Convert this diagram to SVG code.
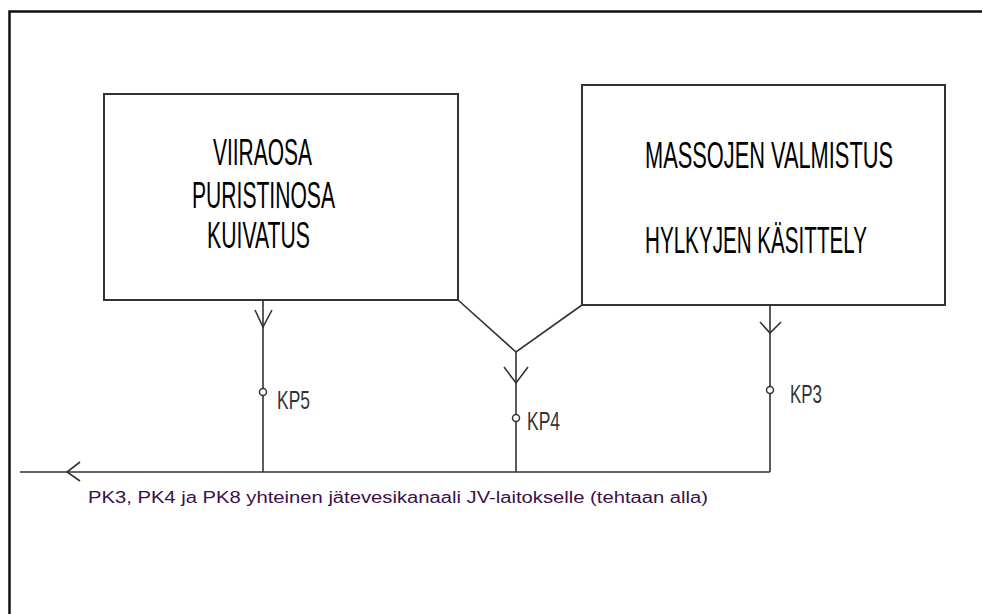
<svg xmlns="http://www.w3.org/2000/svg" width="982" height="614" viewBox="0 0 982 614">
<style>
.box{fill:#fff;stroke:#333;stroke-width:2}
.ln{fill:none;stroke:#333;stroke-width:1.6}
.big{font-family:"Liberation Sans",Arial,sans-serif;font-size:37px;fill:#000}
.kp{font-family:"Liberation Sans",Arial,sans-serif;font-size:25px;fill:#333}
.note{font-family:"Liberation Sans",Arial,sans-serif;font-size:16px;fill:#3a0f4a}
</style>
<rect width="982" height="614" fill="#fff"/>
<path d="M9.5,614 V11.5 H982" fill="none" stroke="#111" stroke-width="2.5"/>
<g id="box-viiraosa">
<rect class="box" x="104" y="94" width="354" height="206"/>
<text class="big" x="213" y="165" textLength="99" lengthAdjust="spacingAndGlyphs">VIIRAOSA</text>
<text class="big" x="192" y="208" textLength="143" lengthAdjust="spacingAndGlyphs">PURISTINOSA</text>
<text class="big" x="207" y="248" textLength="103" lengthAdjust="spacingAndGlyphs">KUIVATUS</text>
</g>
<g id="box-massojen">
<rect class="box" x="582" y="85" width="363" height="220"/>
<text class="big" x="645" y="168" textLength="248" lengthAdjust="spacingAndGlyphs">MASSOJEN VALMISTUS</text>
<text class="big" x="645" y="253" textLength="222" lengthAdjust="spacingAndGlyphs">HYLKYJEN KÄSITTELY</text>
</g>
<g id="connectors">
<path class="ln" d="M263,300 V472"/>
<path class="ln" d="M255,310 L263,327 L272,310"/>
<path class="ln" d="M458,300 L516,352 L582,305"/>
<path class="ln" d="M516,352 V472"/>
<path class="ln" d="M504,367 L516,383 L528,367"/>
<path class="ln" d="M770,305 V472"/>
<path class="ln" d="M760,322 L770,333 L781,322"/>
<path class="ln" d="M20,472 H770"/>
<path class="ln" d="M80,462 L67,472 L80,481"/>
</g>
<g id="kp5">
<circle cx="263" cy="392" r="3.5" fill="#fff" stroke="#333" stroke-width="1.5"/>
<text class="kp" x="277" y="409" textLength="33" lengthAdjust="spacingAndGlyphs">KP5</text>
</g>
<g id="kp4">
<circle cx="516" cy="418" r="3.5" fill="#fff" stroke="#333" stroke-width="1.5"/>
<text class="kp" x="527" y="430" textLength="33" lengthAdjust="spacingAndGlyphs">KP4</text>
</g>
<g id="kp3">
<circle cx="770" cy="390" r="3.5" fill="#fff" stroke="#333" stroke-width="1.5"/>
<text class="kp" x="790" y="403" textLength="32" lengthAdjust="spacingAndGlyphs">KP3</text>
</g>
<text class="note" x="88" y="503" textLength="620" lengthAdjust="spacingAndGlyphs">PK3, PK4 ja PK8 yhteinen jätevesikanaali JV-laitokselle (tehtaan alla)</text>
</svg>
